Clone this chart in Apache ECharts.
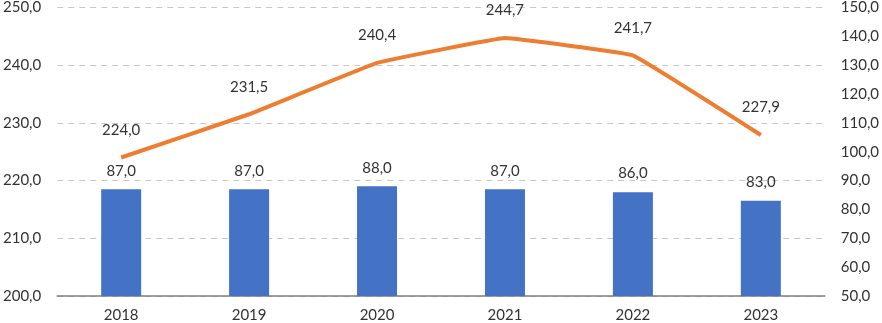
<!DOCTYPE html>
<html>
<head>
<meta charset="utf-8">
<script src="https://cdn.jsdelivr.net/npm/echarts@6/dist/echarts.min.js"></script>
<style>
	html, body { margin: 0; padding: 0; background: #fff; }
	#main { width: 882px; height: 323px; }
</style>
</head>
<body>
<div id="main"></div>
<script>
const years = ['2018', '2019', '2020', '2021', '2022', '2023'];
const barValues = [87.0, 87.0, 88.0, 87.0, 86.0, 83.0];
const lineValues = [224.0, 231.5, 240.4, 244.7, 241.7, 227.9];

const fmt = v => Number(v).toFixed(1).replace('.', ',');
const textColor = '#333333';
const font = 'Lato';

const myChart = echarts.init(document.getElementById('main'));

const option = {
	animation: false,
	grid: { left: 53, right: 54, top: 5, bottom: 27 },
	xAxis: {
		type: 'category',
		data: years,
		axisTick: { show: false },
		axisLine: { lineStyle: { color: '#7f7f7f', width: 1.5 } },
		axisLabel: { color: textColor, fontFamily: font, fontSize: 15, margin: 12 }
	},
	yAxis: [
		{
			type: 'value',
			min: 200,
			max: 250,
			interval: 10,
			axisLabel: { color: textColor, fontFamily: font, fontSize: 15, margin: 16, formatter: fmt },
			splitLine: { lineStyle: { color: '#c8c8c8', type: [6, 5], width: 1.2 } },
			axisLine: { show: false },
			axisTick: { show: false }
		},
		{
			type: 'value',
			min: 50,
			max: 150,
			interval: 10,
			axisLabel: { color: textColor, fontFamily: font, fontSize: 15, margin: 16, formatter: fmt },
			splitLine: { show: false },
			axisLine: { show: false },
			axisTick: { show: false }
		}
	],
	series: [
		{
			type: 'bar',
			yAxisIndex: 1,
			data: barValues,
			barWidth: 40,
			itemStyle: { color: '#4472c4' },
			label: {
				show: true,
				position: 'top',
				distance: 11,
				color: textColor,
				fontFamily: font,
				fontSize: 15,
				formatter: p => fmt(p.value)
			}
		},
		{
			type: 'line',
			yAxisIndex: 0,
			data: lineValues,
			smooth: 0.06,
			symbol: 'circle',
			symbolSize: 2,
			showAllSymbol: true,
			itemStyle: { color: 'rgba(237,125,49,0)' },
			lineStyle: { color: '#ed7d31', width: 4 },
			label: {
				show: true,
				position: 'top',
				distance: 19,
				color: textColor,
				fontFamily: font,
				fontSize: 15,
				formatter: p => fmt(p.value)
			}
		}
	]
};

myChart.setOption(option);
</script>
</body>
</html>
